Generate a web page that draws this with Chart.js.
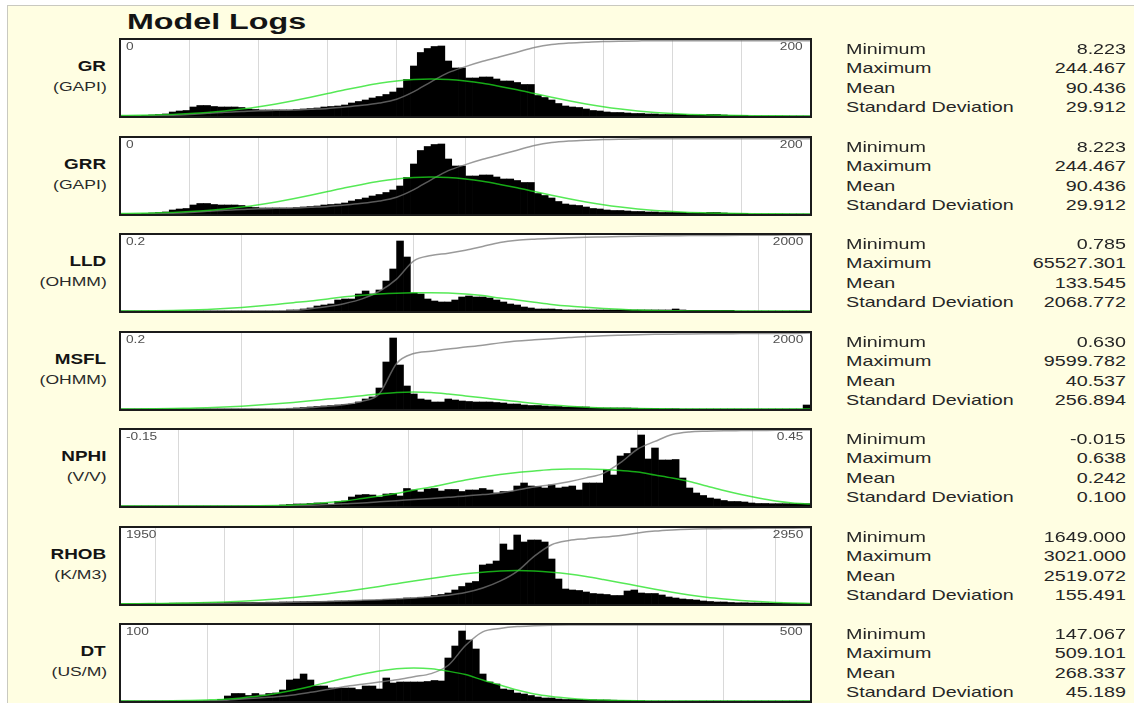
<!DOCTYPE html>
<html>
<head>
<meta charset="utf-8">
<title>Model Logs</title>
<script src="https://cdn.jsdelivr.net/npm/chart.js@4.4.1/dist/chart.umd.min.js"></script>
<style>
  html, body { margin: 0; padding: 0; width: 1134px; height: 703px; overflow: hidden; background: #ffffff; }
  body { position: relative; font-family: "Liberation Sans", Arial, sans-serif; }
  #frame { position: absolute; left: 7px; top: 5px; width: 1140px; height: 720px; background: #fffee2; border: 1px solid #c9c9c0; }
  .panel { position: absolute; left: 119px; width: 689px; height: 76px; border: 2px solid #1b1b1b; background: #ffffff; }
  .panel canvas { display: block; }
  .txt { position: absolute; white-space: nowrap; line-height: 1; }
</style>
</head>
<body>
<div id="frame"></div>
<script>
// ---- log curves shown, one panel each ----
const logNames = ['GR', 'GRR', 'LLD', 'MSFL', 'NPHI', 'RHOB', 'DT'];
const logUnits = ['(GAPI)', '(GAPI)', '(OHMM)', '(OHMM)', '(V/V)', '(K/M3)', '(US/M)'];
const axisMin = [0, 0, 0.2, 0.2, -0.15, 1950, 100];
const axisMax = [200, 200, 2000, 2000, 0.45, 2950, 500];
const axisLog = [false, false, true, true, false, false, false];
const axisLabels = [['0', '200'], ['0', '200'], ['0.2', '2000'], ['0.2', '2000'], ['-0.15', '0.45'], ['1950', '2950'], ['100', '500']];
const gridValues = [
  [20, 40, 60, 80, 100, 120, 140, 160, 180],
  [20, 40, 60, 80, 100, 120, 140, 160, 180],
  [1, 10, 100, 1000],
  [1, 10, 100, 1000],
  [-0.1, 0, 0.1, 0.2, 0.3, 0.4],
  [2000, 2100, 2200, 2300, 2400, 2500, 2600, 2700, 2800, 2900],
  [150, 200, 250, 300, 350, 400, 450]
];

// ---- summary statistics ----
const statLabels = ['Minimum', 'Maximum', 'Mean', 'Standard Deviation'];
const statsGR   = ['8.223', '244.467', '90.436', '29.912'];
const statsGRR  = ['8.223', '244.467', '90.436', '29.912'];
const statsLLD  = ['0.785', '65527.301', '133.545', '2068.772'];
const statsMSFL = ['0.630', '9599.782', '40.537', '256.894'];
const statsNPHI = ['-0.015', '0.638', '0.242', '0.100'];
const statsRHOB = ['1649.000', '3021.000', '2519.072', '155.491'];
const statsDT   = ['147.067', '509.101', '268.337', '45.189'];

// ---- histogram counts (100 equal bins across each axis range) ----
const histGR = [0,0,0,0.5,1,1.5,2,4,5,5.5, 9,10.5,10.5,9.5,9,9,9,8.5,7,6.5, 6,6,6,6,6,6.5,7,7.5,8,9,
  9.5,10,11,13,14.5,16,18,19.5,21.5,24, 28,36.5,50,63.5,67.5,69.5,70,55,48,48, 38,38,39,39,37,35,35,33.5,31.5,31.5,
  20.5,18.5,16,12.5,10,9,8.5,7,5.5,5, 4,3.5,3.5,3,2.5,2.5,2,2,1.5,1.5, 1.5,1.5,1,1,1,1.5,1.5,1,0.5,0.5, 0.5,0,0,0,0,0,0,0,0,0];
const histGRR = [0,0,0,0.5,1,1.5,2,4,5,5.5, 9,10.5,10.5,9.5,9,9,9,8.5,7,6.5, 6,6,6,6,6,6.5,7,7.5,8,9,
  9.5,10,11,13,14.5,16,18,19.5,21.5,24, 28,36.5,50,63.5,67.5,69.5,70,55,48,48, 38,38,39,39,37,35,35,33.5,31.5,31.5,
  20.5,18.5,16,12.5,10,9,8.5,7,5.5,5, 4,3.5,3.5,3,2.5,2.5,2,2,1.5,1.5, 1.5,1.5,1,1,1,1.5,1.5,1,0.5,0.5, 0.5,0,0,0,0,0,0,0,0,0];
const histLLD = [0,0,0,0,0,0,0,0,0,0, 0,0,0,0,0,0,0,0,0,0, 0,0,0,0,1,1,2,3,5,6,
  7,11,12,12,17,20,17,21,30,42, 70,54,18,17,12,10,9,9,11,14, 15,14,14,13,11,9,7,6,4,3,
  2,2,2,1.5,1,1,1,1,1,1, 1,1,1,1,1,1,1,1,1,1, 2,1,0.7,0.7,0.7,0.7,0.7,0.7,0.7,0, 0,0,0,0,0,0,0,0,0,0];
const histMSFL = [0,0,0,0,0,0,0,0,0,0, 0,0,0,0,0,0,0,0,0,0, 0,0,0,0,0.5,1,1.5,2,2.5,3,
  3.5,4,4.5,5,7,10,12,21,47,71, 44,23,15,10,9,7,7,10,9,8, 7.5,7,7,7,6.5,6,5,5,4,3.5,
  3.5,3,2.5,2.5,2,2,2,2,1,1, 1,1,1,1,0.8,0.5,0.5,0.5,0.3,0.3, 0.3,0,0,0,0,0,0,0,0,0, 0,0,0,0,0,0,0,0,0,4];
const histNPHI = [0,0,0,0,0,0,0,0,0,0, 0,0,0,0,0,0,0,0,0,0, 0,0,0,1,1.5,2,2,2.5,3,3,
  1.5,4.5,5,9,11,11.5,11,9,12,12.5, 10,17.5,16,14,17,17.5,15,16.5,16.5,14.5, 16,16,17.5,16,13,14.5,14.5,20,23,20,
  19.5,18,21,18,19,20,16,23,23,23, 36,31,50,52.5,58,71,47,58,46,46, 46.5,28,18,13,10.5,8,7,5.5,4.5,4.5, 4,3,2.5,2.5,2.3,2.3,2.3,2.3,2.3,2.3];
const histRHOB = [0.3,0.5,0.5,0.6,0.6,0.7,0.7,0.8,0.8,0.8, 0.9,1,1,1,1.2,1.5,1.5,1.5,1.5,1.6, 1.7,1.8,1.8,2,2,2.2,2.3,2.4,2.5,2.5,
  2.8,3,3,3.2,3.3,3.8,3.8,4,4.5,4.5, 5,6,6,6.5,7,8.5,9.5,11,14,17.5, 21,22.5,39,40,43,60,54,69,62,64,
  64,62,45,25,15,14,13.5,12,10.5,10, 9.5,8.5,8.5,13,14,11,10.5,10.5,9,7, 6,5,4.5,4,3,2.5,2,2,1.5,1.2, 1.2,1,1,1,0.8,0.8,0.6,0.5,0.4,0.3];
const histDT = [0,0,0,0,0,0,0,0,0,0, 0,0,0.3,0.5,1.5,5,7.5,7.5,5.5,7.5, 6,7.5,8,11,21,22,27,21,15,15,
  13,13,13,13,11.5,15,15,12,23,18, 19,19,19,19,19.5,20.5,20,43,55,70, 61,52,27,19,17,12,11,8,7,5.5,
  4,3,3,2,1.5,1.5,1.5,1.2,1.2,1, 1,0.8,0.6,0.5,0.4,0.3,0,0,0,0, 0,0,0,0,0,0,0,0,0,0, 0,0,0,0,0,0,0,0,0,0];

// ---- cumulative fraction, 41 evenly spaced points across each axis ----
const cumGR = [0,0,0.005,0.01,0.02,0.035,0.05,0.06,0.07,0.075, 0.08,0.09,0.1,0.12,0.14,0.17,0.22,0.32,0.45,0.57,
  0.65,0.72,0.78,0.84,0.9,0.94,0.96,0.97,0.98,0.985, 0.988,0.99,0.99,0.99,0.99,0.99,0.99,0.99,0.99,0.99,0.99];
const cumGRR = [0,0,0.005,0.01,0.02,0.035,0.05,0.06,0.07,0.075, 0.08,0.09,0.1,0.12,0.14,0.17,0.22,0.32,0.45,0.57,
  0.65,0.72,0.78,0.84,0.9,0.94,0.96,0.97,0.98,0.985, 0.988,0.99,0.99,0.99,0.99,0.99,0.99,0.99,0.99,0.99,0.99];
const cumLLD = [0,0,0,0,0,0,0,0,0,0, 0.005,0.03,0.06,0.1,0.16,0.26,0.42,0.66,0.73,0.76,
  0.8,0.85,0.9,0.93,0.945,0.955,0.963,0.97,0.975,0.98, 0.985,0.988,0.99,0.992,0.993,0.995,0.996,0.997,0.998,0.999,1];
const cumMSFL = [0,0,0,0,0,0,0,0,0,0, 0.005,0.02,0.035,0.06,0.1,0.2,0.6,0.73,0.76,0.79,
  0.815,0.84,0.87,0.895,0.91,0.925,0.94,0.955,0.965,0.972, 0.978,0.982,0.985,0.988,0.99,0.991,0.992,0.993,0.994,0.995,1];
const cumNPHI = [0,0,0,0,0,0,0,0,0,0, 0.005,0.01,0.02,0.03,0.04,0.055,0.07,0.085,0.1,0.115,
  0.13,0.15,0.17,0.21,0.25,0.28,0.32,0.37,0.43,0.57, 0.75,0.85,0.94,0.975,0.985,0.99,0.992,0.994,0.996,0.998,1];
const cumRHOB = [0,0,0.002,0.004,0.006,0.008,0.01,0.012,0.015,0.018, 0.022,0.027,0.033,0.04,0.048,0.057,0.068,0.08,0.095,0.115,
  0.15,0.21,0.3,0.43,0.63,0.78,0.835,0.86,0.88,0.9, 0.935,0.96,0.975,0.985,0.99,0.992,0.994,0.996,0.997,0.998,1];
const cumDT = [0,0,0,0,0,0.002,0.008,0.025,0.04,0.055, 0.08,0.115,0.15,0.19,0.22,0.25,0.28,0.32,0.36,0.47,
  0.73,0.91,0.955,0.98,0.99,0.997,1,1,1,1, 1,1,1,1,1,1,1,1,1,1,1];

// ---- fitted normal curve, same 41 points, in histogram count units ----
const normGR = [0.4,0.7,1.1,1.6,2.4,3.5,5,6.9,9.2,12, 15.2,18.7,22.4,26.2,29.6,32.7,35,36.5,37,36.5,
  35,32.7,29.6,26.2,22.4,18.7,15.2,12,9.2,6.9, 5,3.5,2.4,1.6,1.1,0.7,0.4,0.3,0.2,0.1,0.1];
const normGRR = [0.4,0.7,1.1,1.6,2.4,3.5,5,6.9,9.2,12, 15.2,18.7,22.4,26.2,29.6,32.7,35,36.5,37,36.5,
  35,32.7,29.6,26.2,22.4,18.7,15.2,12,9.2,6.9, 5,3.5,2.4,1.6,1.1,0.7,0.4,0.3,0.2,0.1,0.1];
const normLLD = [0,0.1,0.3,0.6,1,1.6,2.5,3.6,5,6.6, 8.3,9.9,12,14.3,15.8,17,17.8,18.2,18.3,18,
  17,15.4,13,11,8.8,6.6,4.9,3.7,2.6,1.7, 0.9,0.5,0.3,0.1,0,0,0,0,0,0,0];
const normMSFL = [0,0.1,0.2,0.4,0.8,1.2,1.9,2.8,3.9,5.2, 6.6,8.2,9.9,11.5,13.3,15.1,16.6,17,16.4,14.9,
  13.1,11.2,9.2,7.4,5.6,4,2.8,1.8,1.1,0.7, 0.4,0.2,0.1,0,0,0,0,0,0,0,0];
const normNPHI = [0,0,0,0,0,0,0,0,0.2,0.5, 1,2,3.5,5,7.5,10,12.5,16,19,22.5,
  26,29,31.5,33.5,35,36.5,37,37,36.5,35.5, 34,31,28,24.5,20,15.5,11.5,8,5,3,2];
const normRHOB = [0.2,0.3,0.5,0.7,1,1.4,2,2.8,3.8,5, 6.5,8.3,10.3,12.6,15,17.6,20.3,23,25.6,28,
  30.2,31.8,33,33.4,33,31.8,30,27.5,24.5,21.3, 18,14.8,11.8,9.1,6.8,5,3.5,2.4,1.6,1,0.6];
const normDT = [0,0,0.1,0.2,0.6,1.1,1.8,3.1,4.9,7.5, 10.8,14.6,18.8,22.9,26.7,30,32.2,33,32.3,29.8,
  26.4,21,16,11,7,4.5,2.8,1.6,0.9,0.5, 0.2,0.1,0,0,0,0,0,0,0,0,0];

const histograms = [histGR, histGRR, histLLD, histMSFL, histNPHI, histRHOB, histDT];
const cumulatives = [cumGR, cumGRR, cumLLD, cumMSFL, cumNPHI, cumRHOB, cumDT];
const normals = [normGR, normGRR, normLLD, normMSFL, normNPHI, normRHOB, normDT];
const statValues = [statsGR, statsGRR, statsLLD, statsMSFL, statsNPHI, statsRHOB, statsDT];

// ---- layout ----
const PAGE_W = 1134;
const PANEL_TOP0 = 38, PANEL_STEP = 97.5;
const COUNT_MAX = 76;           // count that reaches the top of a panel
const TEXT_SX = 1.37;           // horizontal stretch of the lettering

function putText(str, x, baseline, o) {
  const el = document.createElement('div');
  el.className = 'txt';
  el.textContent = str;
  el.style.fontSize = o.size + 'px';
  el.style.fontWeight = o.bold ? 'bold' : 'normal';
  el.style.color = o.color || '#1e1e1e';
  el.style.top = (baseline - 0.8465 * o.size) + 'px';
  el.style.transform = 'scaleX(' + (o.sx || TEXT_SX) + ')';
  if (o.align === 'right') {
    el.style.right = (PAGE_W - x) + 'px';
    el.style.transformOrigin = 'right center';
  } else {
    el.style.left = x + 'px';
    el.style.transformOrigin = 'left center';
  }
  document.body.appendChild(el);
}

// position along an axis for fraction t of its length
function axisPos(p, t) {
  if (axisLog[p]) {
    const a = Math.log10(axisMin[p]), b = Math.log10(axisMax[p]);
    return Math.pow(10, a + t * (b - a));
  }
  return axisMin[p] + t * (axisMax[p] - axisMin[p]);
}

putText('Model Logs', 127, 30, { size: 21.5, bold: true, sx: 1.5, color: '#141414' });

logNames.forEach((name, p) => {
  const top = Math.round(PANEL_TOP0 + PANEL_STEP * p);

  const box = document.createElement('div');
  box.className = 'panel';
  box.style.top = top + 'px';
  const cv = document.createElement('canvas');
  cv.width = 689; cv.height = 76;
  box.appendChild(cv);
  document.body.appendChild(box);

  const hist = histograms[p];
  const histPts = hist.map((v, i) => ({ x: axisPos(p, (i + 0.5) / hist.length), y: v }));
  const cum = cumulatives[p];
  const cumPts = cum.map((v, k) => ({ x: axisPos(p, k / (cum.length - 1)), y: v }));
  const norm = normals[p];
  const normPts = norm.map((v, k) => ({ x: axisPos(p, k / (norm.length - 1)), y: v }));
  const ticks = gridValues[p];

  new Chart(cv, {
    type: 'bar',
    data: {
      datasets: [
        { type: 'line', data: normPts, yAxisID: 'y', order: 1,
          borderColor: 'rgba(30,225,30,0.75)', borderWidth: 1.5, pointRadius: 0,
          cubicInterpolationMode: 'monotone', fill: false },
        { type: 'line', data: cumPts, yAxisID: 'yc', order: 2,
          borderColor: 'rgba(120,120,120,0.75)', borderWidth: 1.5, pointRadius: 0,
          cubicInterpolationMode: 'monotone', fill: false },
        { type: 'bar', data: histPts, yAxisID: 'y', order: 3,
          backgroundColor: '#000000', borderWidth: 0,
          barPercentage: 1, categoryPercentage: 1 }
      ]
    },
    options: {
      responsive: false,
      animation: false,
      events: [],
      layout: { padding: 0 },
      plugins: { legend: { display: false }, tooltip: { enabled: false } },
      scales: {
        x: {
          type: axisLog[p] ? 'logarithmic' : 'linear',
          min: axisMin[p], max: axisMax[p],
          offset: false,
          grid: { offset: false, color: '#d9d9d9', lineWidth: 1, drawTicks: false },
          border: { display: false },
          ticks: { display: false },
          afterBuildTicks: (s) => { s.ticks = ticks.map(v => ({ value: v })); }
        },
        y: { display: false, min: 0, max: COUNT_MAX },
        yc: { display: false, min: 0, max: 1 }
      }
    }
  });

  // range labels inside the panel
  putText(axisLabels[p][0], 126, top + 12, { size: 10, color: '#505050' });
  putText(axisLabels[p][1], 803, top + 12, { size: 10, color: '#505050', align: 'right' });

  // log name and unit
  putText(name, 106, top + 33, { size: 14, bold: true, sx: 1.35, color: '#141414', align: 'right' });
  putText(logUnits[p], 107, top + 53, { size: 13, sx: 1.35, color: '#2a2a2a', align: 'right' });

  // statistics block
  statLabels.forEach((lbl, r) => {
    const base = top + 16 + r * 19.5;
    putText(lbl, 846, base, { size: 14.4, color: '#262626' });
    putText(statValues[p][r], 1126, base, { size: 14.4, color: '#262626', align: 'right' });
  });
});
</script>
</body>
</html>
